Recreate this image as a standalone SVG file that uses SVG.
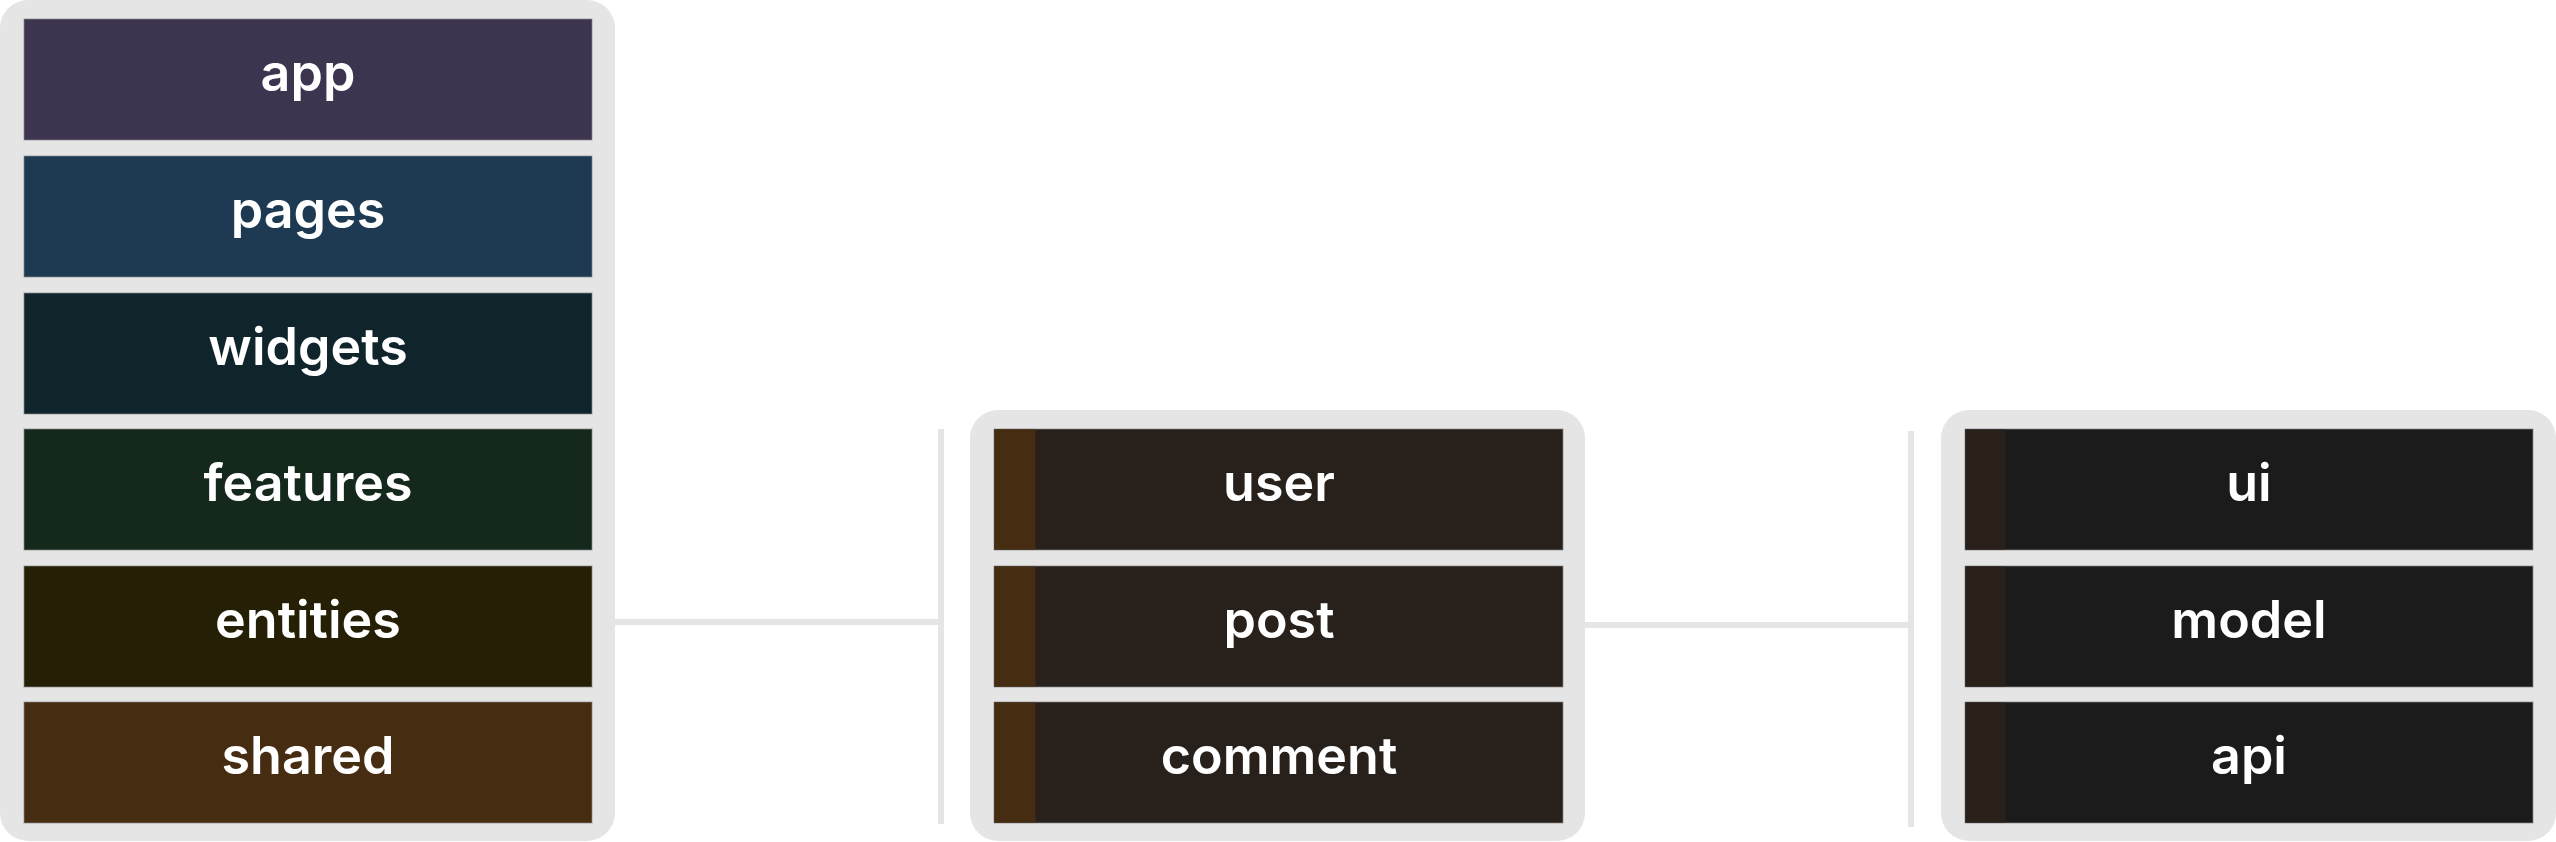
<svg xmlns="http://www.w3.org/2000/svg" width="2556" height="842" viewBox="0 0 2556 842">
<style>
.frame{fill:#e5e5e5}
.row{stroke:#8a8a8a;stroke-opacity:.7;stroke-width:1}
.lbl{font-family:Inter,"Noto Sans","Liberation Sans",sans-serif;font-weight:600;font-size:52px;fill:#ffffff;text-anchor:middle}
.wire{stroke:#e5e5e5;stroke-width:6;fill:none}
.ent{fill:#28201a}
.entbar{fill:#462c10}
.seg{fill:#1b1b1b}
.segbar{fill:#2a201a}
</style>
<rect width="2556" height="842" fill="#ffffff"/>
<g id="connectors">
<line class="wire" x1="615" y1="622" x2="941" y2="622"/>
<line class="wire" x1="941" y1="429" x2="941" y2="824"/>
<line class="wire" x1="1585" y1="625" x2="1911" y2="625"/>
<line class="wire" x1="1911" y1="431" x2="1911" y2="827"/>
</g>
<g id="layers">
<rect class="frame" x="0" y="0" width="615" height="841" rx="28"/>
<g id="layer-app"><rect class="row" x="24" y="19" width="568" height="121" fill="#3d3450"/><text class="lbl" x="308" y="90.5">app</text></g>
<g id="layer-pages"><rect class="row" x="24" y="156" width="568" height="121" fill="#1d3a52"/><text class="lbl" x="308" y="227.5">pages</text></g>
<g id="layer-widgets"><rect class="row" x="24" y="293" width="568" height="121" fill="#10242b"/><text class="lbl" x="308" y="364.5">widgets</text></g>
<g id="layer-features"><rect class="row" x="24" y="429" width="568" height="121" fill="#14291c"/><text class="lbl" x="308" y="500.5">features</text></g>
<g id="layer-entities"><rect class="row" x="24" y="566" width="568" height="121" fill="#252005"/><text class="lbl" x="308" y="637.5">entities</text></g>
<g id="layer-shared"><rect class="row" x="24" y="702" width="568" height="121" fill="#462c10"/><text class="lbl" x="308" y="773.5">shared</text></g>
</g>
<g id="slices">
<rect class="frame" x="970" y="410" width="615" height="431" rx="28"/>
<g id="slice-user"><rect class="row ent" x="994" y="429" width="569" height="121"/><rect class="entbar" x="994.5" y="429.5" width="41" height="120"/><text class="lbl" x="1279" y="500.5">user</text></g>
<g id="slice-post"><rect class="row ent" x="994" y="566" width="569" height="121"/><rect class="entbar" x="994.5" y="566.5" width="41" height="120"/><text class="lbl" x="1279" y="637.5">post</text></g>
<g id="slice-comment"><rect class="row ent" x="994" y="702" width="569" height="121"/><rect class="entbar" x="994.5" y="702.5" width="41" height="120"/><text class="lbl" x="1279" y="773.5">comment</text></g>
</g>
<g id="segments">
<rect class="frame" x="1941" y="410" width="615" height="431" rx="28"/>
<g id="segment-ui"><rect class="row seg" x="1965" y="429" width="568" height="121"/><rect class="segbar" x="1965.5" y="429.5" width="40" height="120"/><text class="lbl" x="2249" y="500.5">ui</text></g>
<g id="segment-model"><rect class="row seg" x="1965" y="566" width="568" height="121"/><rect class="segbar" x="1965.5" y="566.5" width="40" height="120"/><text class="lbl" x="2249" y="637.5">model</text></g>
<g id="segment-api"><rect class="row seg" x="1965" y="702" width="568" height="121"/><rect class="segbar" x="1965.5" y="702.5" width="40" height="120"/><text class="lbl" x="2249" y="773.5">api</text></g>
</g>
</svg>
